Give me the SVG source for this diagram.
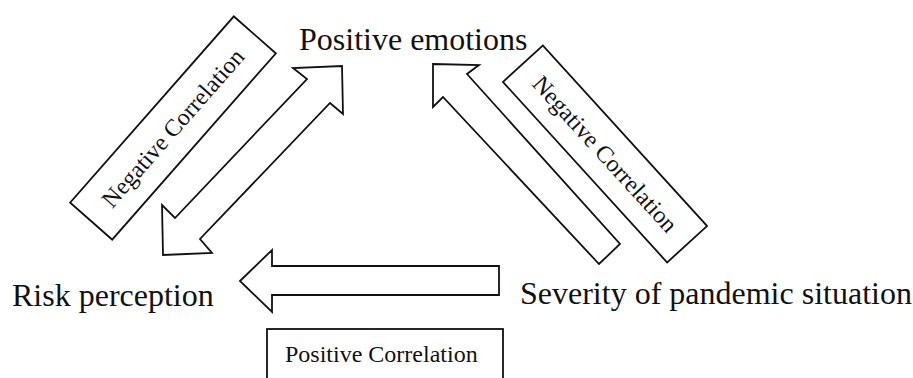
<svg xmlns="http://www.w3.org/2000/svg" width="913" height="378" viewBox="0 0 913 378">
<style>
.node{font-family:"Liberation Serif","Times New Roman",serif;font-size:32px;fill:#111}
.lbl{font-family:"Liberation Serif","Times New Roman",serif;font-size:24px;fill:#111}
.shape{fill:#fff;stroke:#111;stroke-width:1.8;stroke-linejoin:miter}
</style>
<rect width="913" height="378" fill="#fff"/>
<g id="connectors">
<polygon id="arrow-risk-emotions" class="shape" points="342,66 343,114 330,103 200,239 212,253 163,255 162,205 175,218 307,79 293,68"/>
<polygon id="arrow-severity-emotions" class="shape" points="433,64 479,65 467,74 620,244 599,264 443,97 433,107"/>
<polygon id="arrow-severity-risk" class="shape" points="240,281 272,250 272,266 499,266 499,295 272,295 272,312"/>
</g>
<g id="label-neg-left">
<g transform="translate(173,128) rotate(-48.7)">
<rect class="shape" x="-124" y="-28" width="248" height="56"/>
<text class="lbl" x="0" y="8" text-anchor="middle">Negative Correlation</text>
</g>
</g>
<g id="label-neg-right">
<g transform="translate(605,154) rotate(47.7)">
<rect class="shape" x="-122" y="-27" width="244" height="54"/>
<text class="lbl" x="0" y="8" text-anchor="middle">Negative Correlation</text>
</g>
</g>
<g id="label-pos">
<rect class="shape" x="267" y="329" width="236" height="70"/>
<text class="lbl" x="285" y="362">Positive Correlation</text>
</g>
<g id="node-positive-emotions">
<text class="node" x="299" y="50">Positive emotions</text>
</g>
<g id="node-risk-perception">
<text class="node" x="12" y="306">Risk perception</text>
</g>
<g id="node-severity">
<text class="node" x="520" y="304">Severity of pandemic situation</text>
</g>
</svg>
